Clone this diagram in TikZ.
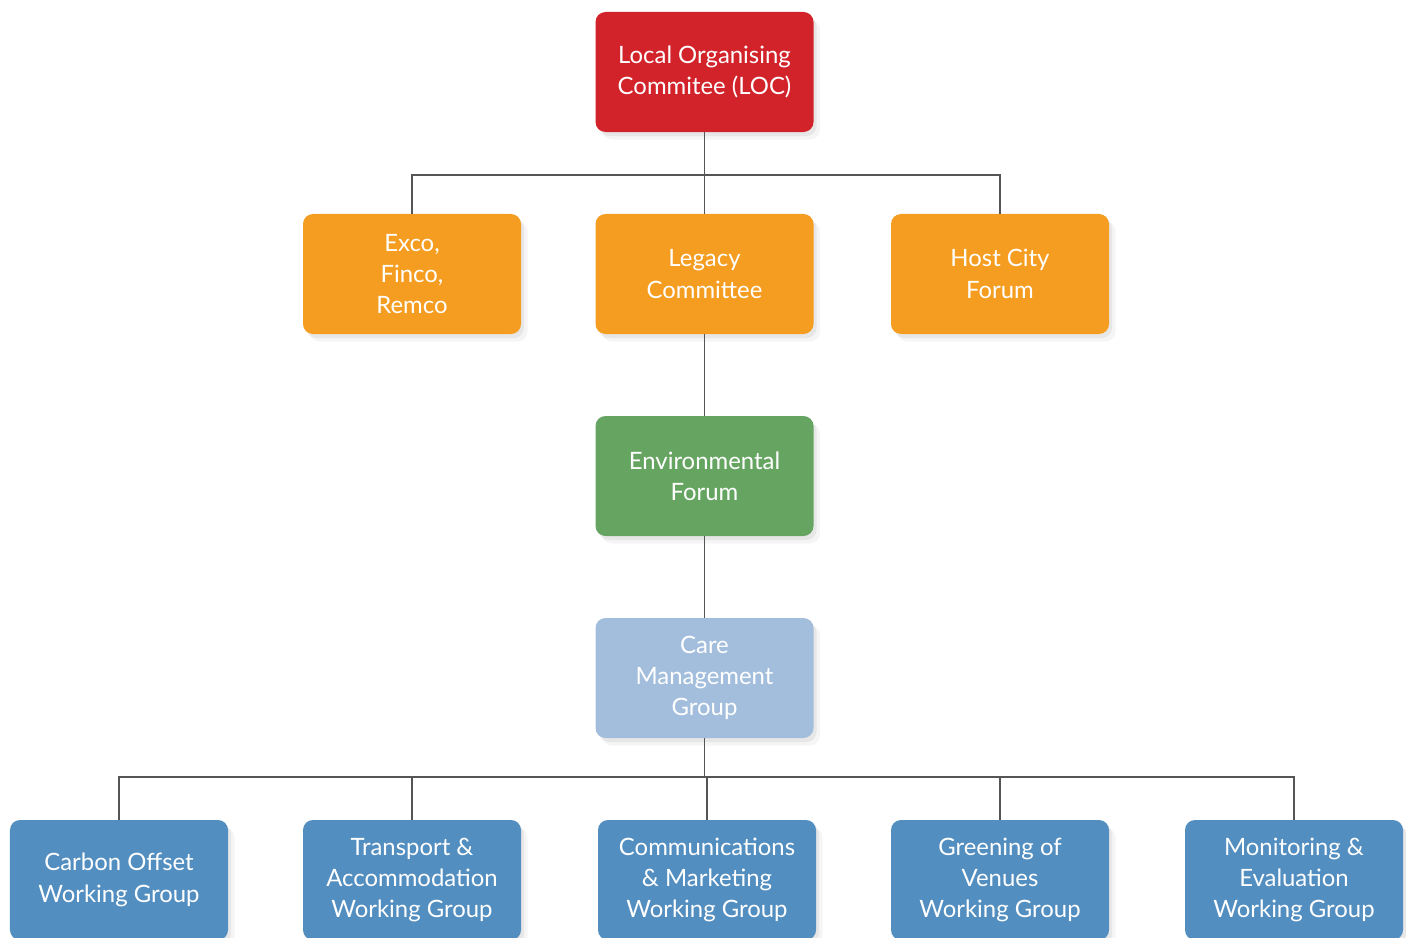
\documentclass[tikz,border=0pt]{standalone}
\usepackage{fontspec}
\setmainfont{Lato}
\usepackage{tikz}
\usetikzlibrary{shadows}
\definecolor{locred}{HTML}{D2232A}
\definecolor{orgorange}{HTML}{F59D20}
\definecolor{envgreen}{HTML}{66A561}
\definecolor{carelight}{HTML}{A3BEDD}
\definecolor{wgblue}{HTML}{528EC0}
\definecolor{linegray}{HTML}{555555}

\begin{document}
\begin{tikzpicture}[x=0.2mm,y=-0.2mm,
      every node/.style={font=\fontsize{13.6pt}{17.8pt}\selectfont},
      box/.style={rounded corners=2mm,minimum width=43.6mm,minimum height=24mm,
        align=center,text=white,inner sep=1pt,
        drop shadow={shadow xshift=0.6mm,shadow yshift=-0.8mm,opacity=0.12},
        drop shadow={shadow xshift=1.3mm,shadow yshift=-1.5mm,opacity=0.08}},
      link/.style={draw=linegray,line width=0.7pt}]
    \useasboundingbox (0,0) rectangle (1406,938);
    \clip (0,0) rectangle (1406,938);
    % top levels
    \node[box,fill=locred] (loc) at (704.5,72) {Local Organising\\Commitee (LOC)};
    \node[box,fill=orgorange] (exco) at (412,274) {Exco,\\Finco,\\Remco};
    \node[box,fill=orgorange] (legacy) at (704.5,274) {Legacy\\Committee};
    \node[box,fill=orgorange] (host) at (1000,274) {Host City\\Forum};
    \node[box,fill=envgreen] (env) at (704.5,476) {Environmental\\Forum};
    \node[box,fill=carelight] (care) at (704.5,678) {Care\\Management\\Group};
    % working groups
    \foreach \n/\x/\t in {carbon/119/{Carbon Offset\\Working Group},
        transport/412/{Transport \&\\Accommodation\\Working Group},
        comms/707/{Communications\\\& Marketing\\Working Group},
        greening/1000/{Greening of\\Venues\\Working Group},
        monitoring/1294/{Monitoring \&\\Evaluation\\Working Group}}
      \node[box,fill=wgblue] (\n) at (\x,880) {\t};
    \coordinate (topbar) at (704.5,175);
    \coordinate (wgbar) at (704.5,777);
    \draw[link] (loc.south) -- (legacy.north);
    \draw[link] (exco.north) |- (topbar) -| (host.north);
    \draw[link] (legacy.south) -- (env.north);
    \draw[link] (env.south) -- (care.north);
    \draw[link] (care.south) -- (wgbar);
    \draw[link] (carbon.north) |- (wgbar) -| (monitoring.north);
    \foreach \n in {transport,comms,greening}
      \draw[link] (\n.north) -- (\n.north |- wgbar);
  \end{tikzpicture}
\end{document}
